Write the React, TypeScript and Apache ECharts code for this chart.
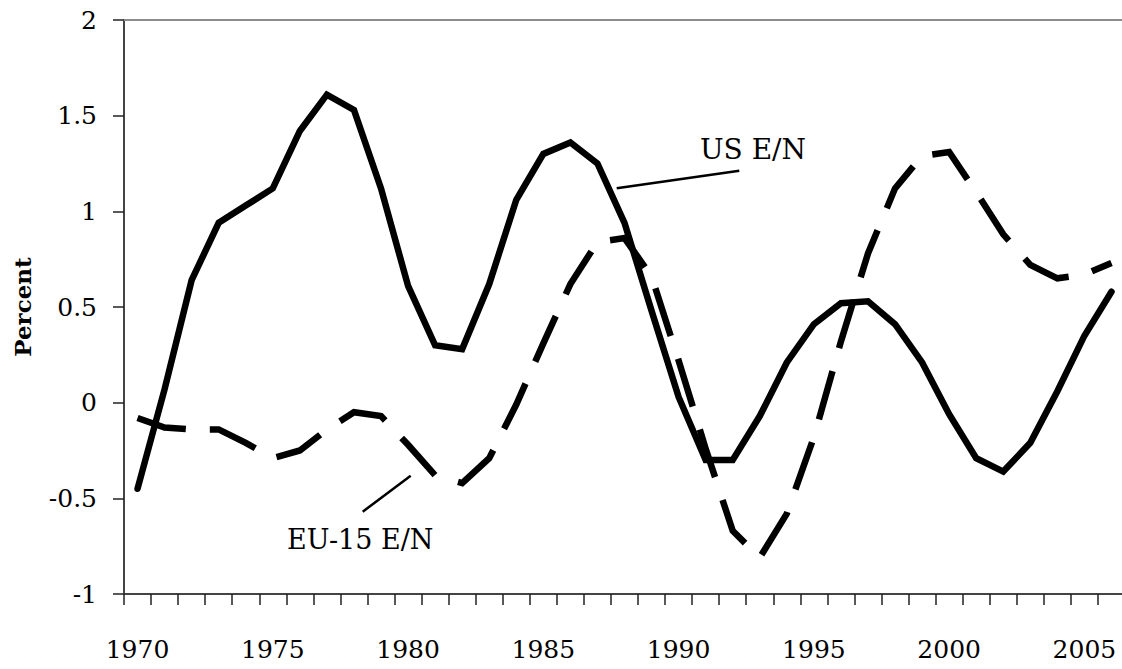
import React, { useEffect, useRef } from "react";
import * as echarts from "echarts";

const years = [
  "1970", "1971", "1972", "1973", "1974", "1975", "1976", "1977", "1978", "1979",
  "1980", "1981", "1982", "1983", "1984", "1985", "1986", "1987", "1988", "1989",
  "1990", "1991", "1992", "1993", "1994", "1995", "1996", "1997", "1998", "1999",
  "2000", "2001", "2002", "2003", "2004", "2005", "2006",
];

const usEN = [
  -0.45, 0.07, 0.64, 0.94, 1.03, 1.12, 1.42, 1.61, 1.53, 1.12,
  0.61, 0.3, 0.28, 0.62, 1.06, 1.3, 1.36, 1.25, 0.94, 0.48,
  0.03, -0.3, -0.3, -0.07, 0.21, 0.41, 0.52, 0.53, 0.41, 0.21,
  -0.06, -0.29, -0.36, -0.21, 0.06, 0.35, 0.58,
];

const euEN = [
  -0.08, -0.13, -0.14, -0.14, -0.21, -0.29, -0.25, -0.14, -0.05, -0.07,
  -0.22, -0.38, -0.42, -0.29, -0.01, 0.31, 0.62, 0.84, 0.86, 0.66,
  0.22, -0.24, -0.67, -0.81, -0.58, -0.18, 0.32, 0.78, 1.12, 1.29,
  1.31, 1.1, 0.88, 0.72, 0.65, 0.67, 0.73,
];

const yMin = -1;
const yMax = 2;
const yStep = 0.5;
const labelEvery = 5;

const FONT = "'DejaVu Serif', serif";

export default function App() {
  const ref = useRef<HTMLDivElement>(null);

  useEffect(() => {
    if (!ref.current) return;
    const chart = echarts.init(ref.current, undefined, { renderer: "svg" });
    chart.setOption({
      animation: false,
      backgroundColor: "#ffffff",
      grid: {
        left: 124,
        top: 20,
        width: 1001,
        height: 574,
        containLabel: false,
        outerBoundsMode: "none",
      },
      xAxis: [
        {
          type: "category",
          data: years,
          boundaryGap: true,
          position: "bottom",
          axisLine: { show: true, onZero: false, lineStyle: { color: "#444444", width: 2 } },
          axisTick: {
            show: true,
            interval: 0,
            length: 11,
            lineStyle: { color: "#222222", width: 1.5 },
          },
          axisLabel: {
            interval: (i: number) => i % labelEvery === 0,
            margin: 43,
            fontFamily: FONT,
            fontSize: 25,
            color: "#000000",
          },
          splitLine: { show: false },
        },
        {
          type: "category",
          data: years,
          position: "top",
          axisLine: { show: true, onZero: false, lineStyle: { color: "#8c8c8c", width: 2 } },
          axisTick: { show: false },
          axisLabel: { show: false },
          splitLine: { show: false },
        },
      ],
      yAxis: {
        type: "value",
        min: yMin,
        max: yMax,
        interval: yStep,
        name: "Percent",
        nameLocation: "middle",
        nameGap: 90,
        nameRotate: 90,
        nameTextStyle: {
          fontFamily: FONT,
          fontSize: 23,
          fontWeight: "bold",
          color: "#000000",
        },
        axisLine: { show: true, onZero: false, lineStyle: { color: "#444444", width: 2 } },
        axisTick: { show: true, length: 11, lineStyle: { color: "#222222", width: 1.5 } },
        axisLabel: {
          margin: 27,
          fontFamily: FONT,
          fontSize: 25,
          color: "#000000",
        },
        splitLine: { show: false },
      },
      series: [
        {
          name: "EU-15 E/N",
          type: "line",
          data: euEN,
          showSymbol: false,
          symbol: "none",
          lineStyle: {
            color: "#000000",
            width: 6.5,
            type: [50, 24],
            cap: "butt",
            join: "miter",
          },
          z: 2,
        },
        {
          name: "US E/N",
          type: "line",
          data: usEN,
          showSymbol: false,
          symbol: "none",
          lineStyle: { color: "#000000", width: 6.5, cap: "round", join: "miter" },
          z: 3,
        },
      ],
      graphic: [
        {
          type: "line",
          shape: { x1: 616.7, y1: 188.3, x2: 739.3, y2: 170.7 },
          style: { stroke: "#000000", lineWidth: 2.5 },
        },
        {
          type: "text",
          x: 700,
          y: 149.5,
          style: {
            text: "US E/N",
            fontFamily: FONT,
            fontSize: 28,
            fill: "#000000",
            verticalAlign: "middle",
            align: "left",
          },
        },
        {
          type: "line",
          shape: { x1: 362.7, y1: 511.7, x2: 410.7, y2: 475.7 },
          style: { stroke: "#000000", lineWidth: 2.5 },
        },
        {
          type: "text",
          x: 287,
          y: 539,
          style: {
            text: "EU-15 E/N",
            fontFamily: FONT,
            fontSize: 27,
            fill: "#000000",
            verticalAlign: "middle",
            align: "left",
          },
        },
      ],
    });
    return () => chart.dispose();
  }, []);

  return (
    <div
      ref={ref}
      style={{ position: "fixed", left: 0, top: 0, width: 1122, height: 669, overflow: "hidden" }}
    />
  );
}
